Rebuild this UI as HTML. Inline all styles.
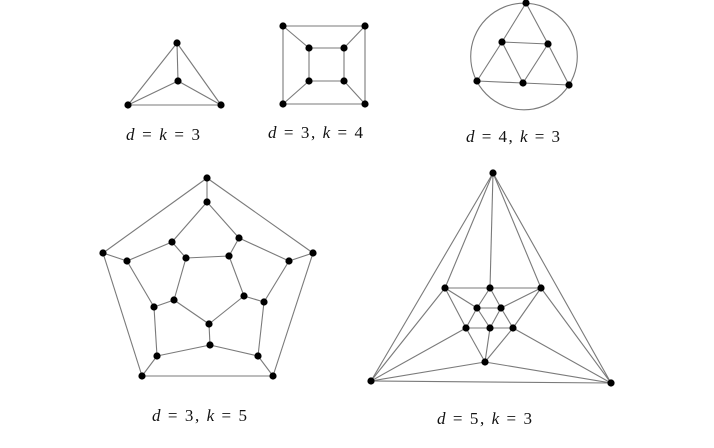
<!DOCTYPE html>
<html><head><meta charset="utf-8"><style>
html,body{margin:0;padding:0;background:#fff;}
svg{display:block;}
.e line,.e circle.ring{stroke:#7a7a7a;stroke-width:1.1;fill:none;}
.v circle{fill:#000;}
text{font-family:"Liberation Serif",serif;font-size:17px;fill:#111;}
.i{font-style:italic;}
</style></head><body>
<svg id="s" width="714" height="448" viewBox="0 0 714 448">
<g id="edges" class="e">
<circle class="ring" cx="524" cy="56.5" r="53.3"/>
</g>
<g id="verts" class="v"></g>
<text x="126" y="140" textLength="74" lengthAdjust="spacing"><tspan class="i">d</tspan> = <tspan class="i">k</tspan> = 3</text>
<text x="268" y="138" textLength="95" lengthAdjust="spacing"><tspan class="i">d</tspan> = 3, <tspan class="i">k</tspan> = 4</text>
<text x="466" y="142" textLength="94" lengthAdjust="spacing"><tspan class="i">d</tspan> = 4, <tspan class="i">k</tspan> = 3</text>
<text x="152" y="421" textLength="95" lengthAdjust="spacing"><tspan class="i">d</tspan> = 3, <tspan class="i">k</tspan> = 5</text>
<text x="437" y="424" textLength="95" lengthAdjust="spacing"><tspan class="i">d</tspan> = 5, <tspan class="i">k</tspan> = 3</text>
</svg>
<script>
const NS="http://www.w3.org/2000/svg";
const tetraV=[[177,43],[178,81],[128,105],[221,105]];
const tetraE=[[0,1],[0,2],[0,3],[1,2],[1,3],[2,3]];
const cubeV=[[283,26],[365,26],[365,104],[283,104],[309,48],[344,48],[344,81],[309,81]];
const cubeE=[[0,1],[1,2],[2,3],[3,0],[4,5],[5,6],[6,7],[7,4],[0,4],[1,5],[2,6],[3,7]];
const octaV=[[526,3],[502,42],[548,44],[477,81],[523,83],[569,85]];
const octaE=[[0,1],[0,2],[1,2],[1,3],[1,4],[2,4],[2,5],[3,4],[4,5]];
const dodeV=[[207,178],[313,253],[273,376],[142,376],[103,253],
 [207,202],[239,238],[289,261],[264,302],[258,356],[210,345],[157,356],[154,307],[127,261],[172,242],
 [186,258],[229,256],[244,296],[209,324],[174,300]];
const dodeE=[[0,1],[1,2],[2,3],[3,4],[4,0],[0,5],[1,7],[2,9],[3,11],[4,13],
 [5,6],[6,7],[7,8],[8,9],[9,10],[10,11],[11,12],[12,13],[13,14],[14,5],
 [14,15],[6,16],[8,17],[10,18],[12,19],[15,16],[16,17],[17,18],[18,19],[19,15]];
const icoV=[[493,173],[371,381],[611,383],[445,288],[490,288],[541,288],[485,362],[477,308],[501,308],[466,328],[490,328],[513,328]];
const icoE=[[0,1],[0,2],[1,2],[0,3],[0,4],[0,5],[1,3],[1,9],[1,6],[2,5],[2,11],[2,6],[3,4],[4,5],[3,7],[3,9],[5,8],[5,11],[4,7],[4,8],[6,9],[6,11],[6,10],[7,8],[7,9],[7,10],[8,10],[8,11],[9,10],[10,11]];
const graphs=[["tetrahedron",tetraV,tetraE],["cube",cubeV,cubeE],["octahedron",octaV,octaE],["dodecahedron",dodeV,dodeE],["icosahedron",icoV,icoE]];
const eg=document.getElementById('edges'),vg=document.getElementById('verts');
graphs.forEach(([n,V,E])=>{
 E.forEach(([a,b])=>{const l=document.createElementNS(NS,'line');
  l.setAttribute('x1',V[a][0]);l.setAttribute('y1',V[a][1]);l.setAttribute('x2',V[b][0]);l.setAttribute('y2',V[b][1]);
  
  
  eg.appendChild(l);});
 V.forEach(([x,y])=>{const c=document.createElementNS(NS,'circle');
  c.setAttribute('cx',x);c.setAttribute('cy',y);c.setAttribute('r',3.6);
  
  
  vg.appendChild(c);});
});
</script>
</body></html>
